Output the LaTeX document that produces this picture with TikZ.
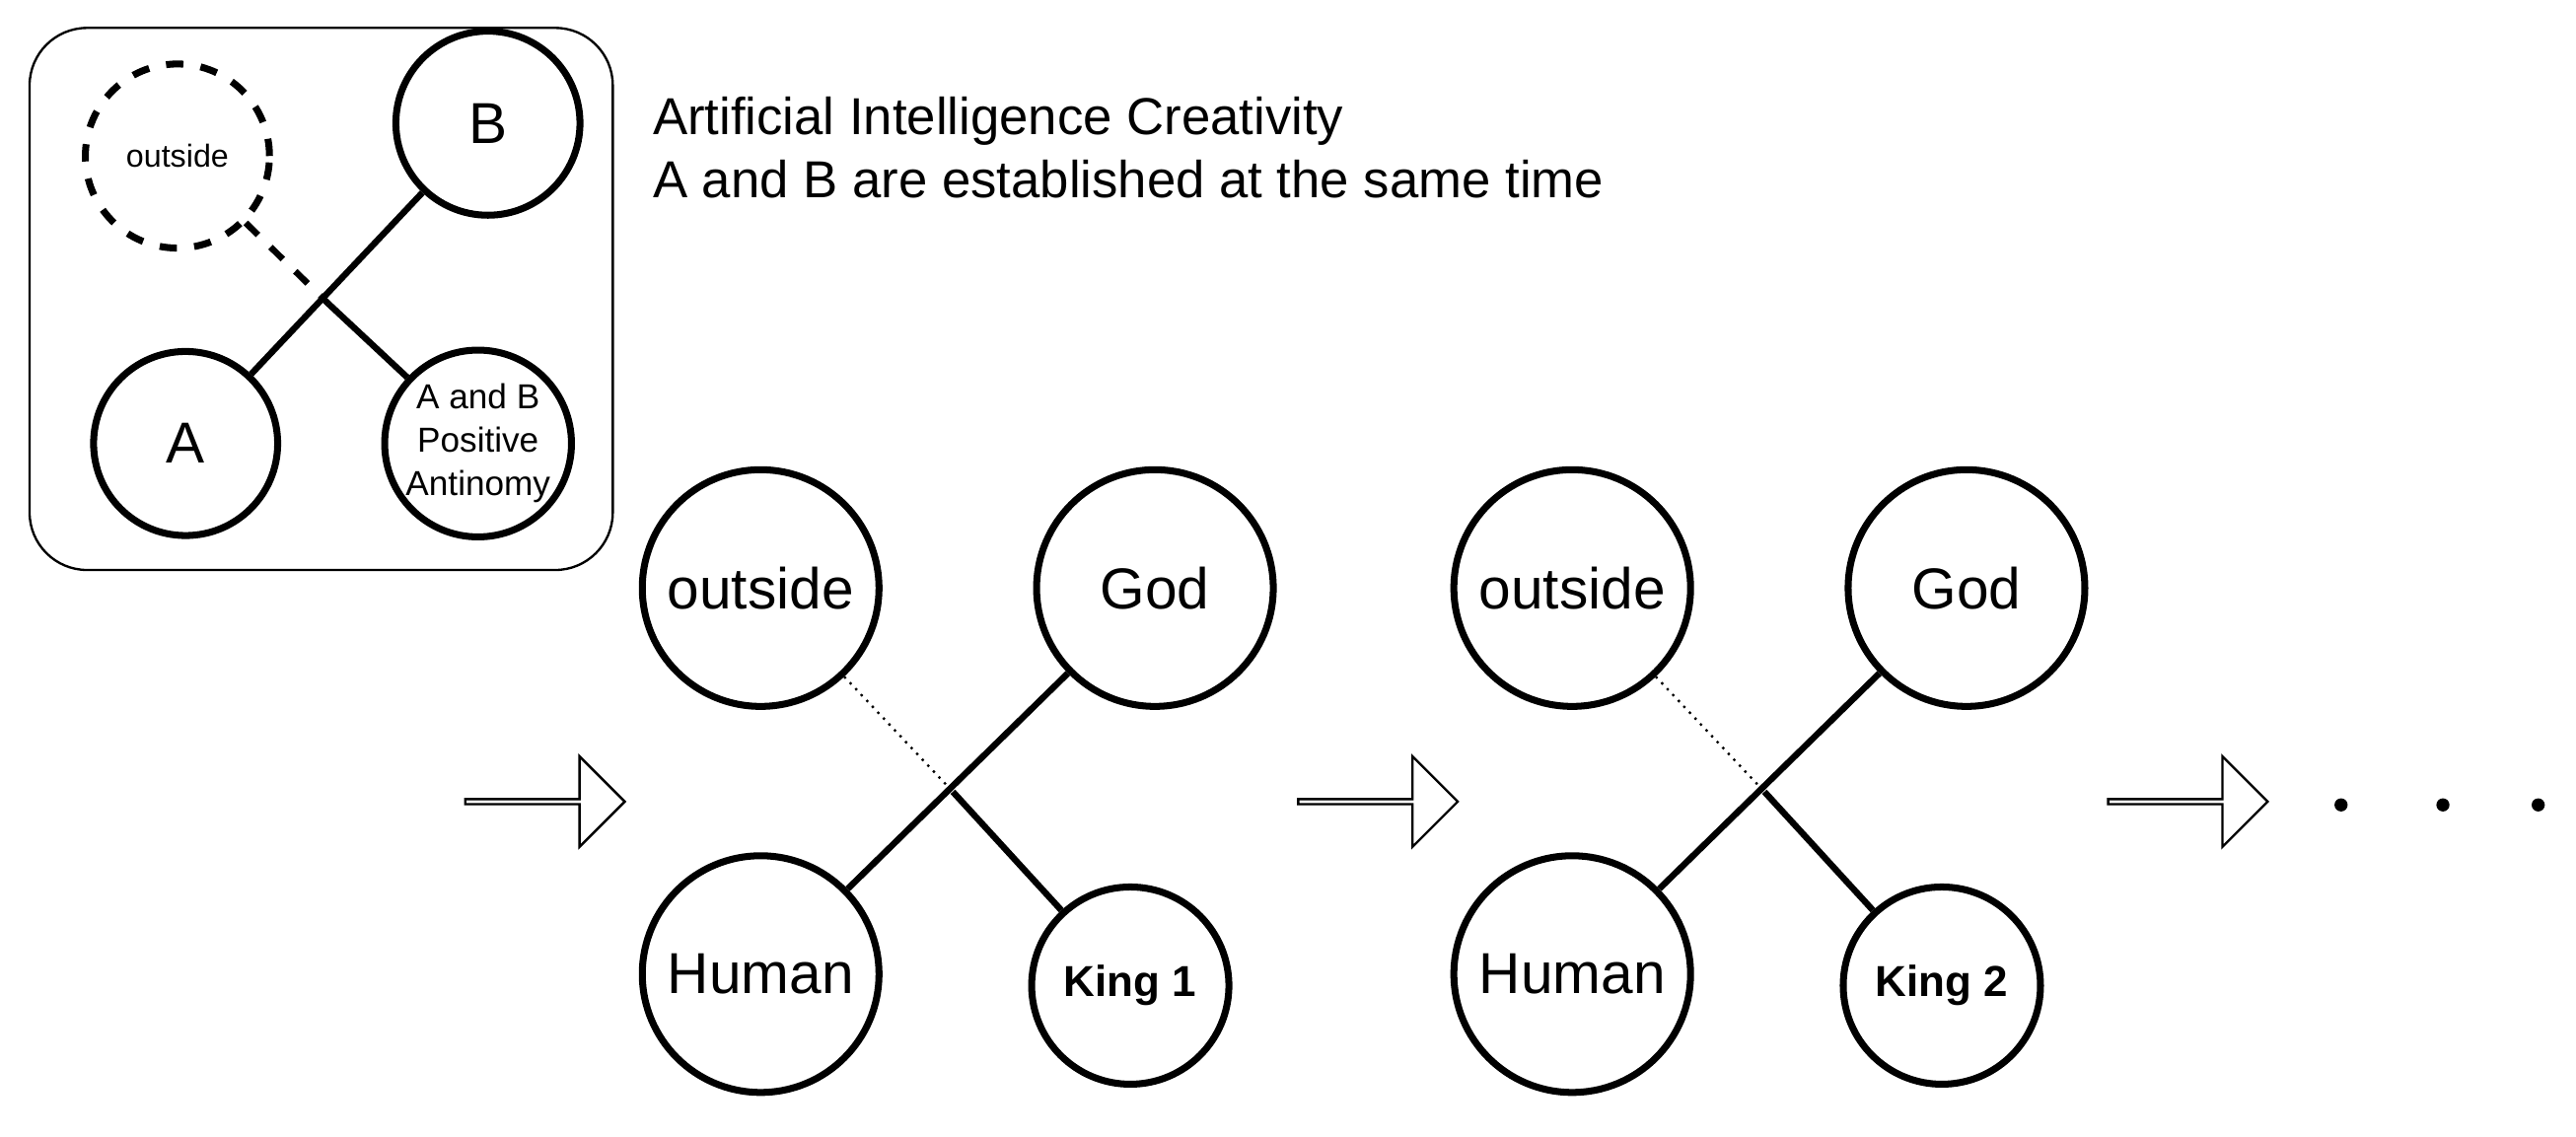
\documentclass[tikz,border=0pt]{standalone}
\usepackage{fontspec}
\setmainfont{Liberation Sans}
\usetikzlibrary{shapes.arrows,positioning}
\begin{document}
\begin{tikzpicture}[x=0.01cm,y=-0.01cm]
\tikzset{
	bigc/.style={circle,draw,line width=1.2pt,minimum size=1.44cm,inner sep=0pt,font=\fontsize{10}{12}\selectfont},
	kingc/.style={circle,draw,line width=1.2pt,minimum size=1.2cm,inner sep=0pt,font=\fontsize{7.5}{9}\selectfont\bfseries},
	smallc/.style={circle,draw,line width=1.2pt,minimum size=1.12cm,inner sep=0pt,align=center},
	blk/.style={single arrow,draw,thin,minimum height=0.97cm,minimum width=0.55cm,single arrow head extend=0.12cm,inner sep=0pt},
	lnk/.style={line width=1.1pt}
}
\useasboundingbox (0,0) rectangle (1568,692);

% inset box
\draw[rounded corners=0.35cm,thin] (18,17) rectangle (373,347);
\node[smallc,dashed,font=\fontsize{5.5}{6}\selectfont] (out0) at (108,95) {outside};
\node[smallc,font=\fontsize{10}{12}\selectfont] (b0) at (297,75) {B};
\node[smallc,font=\fontsize{10}{12}\selectfont] (a0) at (113,270) {A};
\node[smallc,font=\fontsize{6}{7.5}\selectfont] (ab0) at (291,270) {A and B\\Positive\\Antinomy};
\coordinate (x0) at (200,185);
\draw[lnk] (a0) -- (b0);
\draw[lnk,dashed] (out0) -- (x0);
\draw[lnk] (x0) -- (ab0);
\node[anchor=west,align=left,font=\fontsize{9}{11}\selectfont] (title) at (385,90)
	{Artificial Intelligence Creativity\\A and B are established at the same time};

% stages
\foreach \k/\dx in {1/0,2/494}{
	\node[bigc] (out\k) at (463+\dx,358) {outside};
	\node[bigc] (god\k) at (703+\dx,358) {God};
	\node[bigc] (hum\k) at (463+\dx,593) {Human};
	\node[kingc] (king\k) at (688+\dx,600) {King \k};
	\coordinate (x\k) at (580+\dx,482);
	\draw[lnk] (hum\k) -- (god\k);
	\draw[densely dotted,thin] (out\k) -- (x\k);
	\draw[lnk] (x\k) -- (king\k);
}

% block arrows
\node[blk] (ar1) at (331,488) {};
\node[blk] (ar2) at (838,488) {};
\node[blk] (ar3) at (1331,488) {};

% dots
\foreach \i/\xx in {1/1425,2/1487,3/1545}
	\fill (\xx,490) circle (0.04cm) coordinate (d\i);
\end{tikzpicture}
\end{document}
